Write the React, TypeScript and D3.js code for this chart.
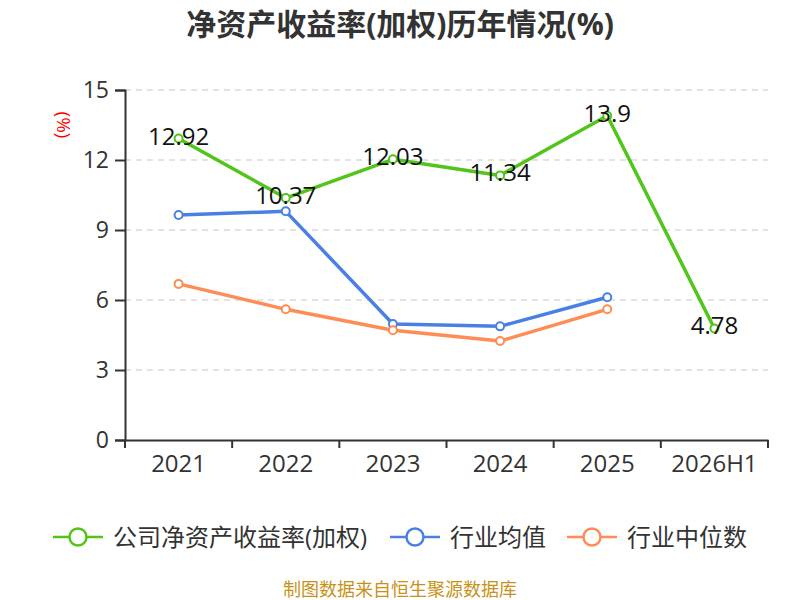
import React, { useEffect, useRef } from "react";
import * as d3 from "d3";

const categories = ["2021", "2022", "2023", "2024", "2025", "2026H1"];
const companyRoe = [12.92, 10.37, 12.03, 11.34, 13.9, 4.78];
const industryAvg = [9.64, 9.8, 4.97, 4.87, 6.12];
const industryMedian = [6.69, 5.6, 4.7, 4.24, 5.6];
const yTicks = [0, 3, 6, 9, 12, 15];

const seriesList = [
  { name: "公司净资产收益率(加权)", values: companyRoe, color: "#52c41a", labels: true },
  { name: "行业均值", values: industryAvg, color: "#4a80e4", labels: false },
  { name: "行业中位数", values: industryMedian, color: "#ff8c55", labels: false },
];

const FONT = "'Open Sans', 'Noto Sans CJK SC', sans-serif";

export default function App() {
  const ref = useRef<SVGSVGElement>(null);

  useEffect(() => {
    const width = 800;
    const height = 600;
    const margin = { top: 90, right: 32, bottom: 160, left: 125 };

    const svg = d3.select(ref.current);
    svg.selectAll("*").remove();

    const x = d3
      .scaleBand<string>()
      .domain(categories)
      .range([margin.left, width - margin.right]);
    const y = d3
      .scaleLinear()
      .domain([0, 15])
      .range([height - margin.bottom, margin.top]);

    svg
      .append("text")
      .attr("x", width / 2)
      .attr("y", 35)
      .attr("text-anchor", "middle")
      .attr("font-size", 30)
      .attr("font-weight", 700)
      .attr("fill", "#333")
      .text("净资产收益率(加权)历年情况(%)");

    // grid
    svg
      .append("g")
      .selectAll("line")
      .data(yTicks.filter((t) => t > 0))
      .join("line")
      .attr("x1", margin.left)
      .attr("x2", width - margin.right)
      .attr("y1", (d) => y(d))
      .attr("y2", (d) => y(d))
      .attr("stroke", "#c8c8c8")
      .attr("stroke-width", 1.2)
      .attr("stroke-dasharray", "6,5");

    // y axis
    const yAxis = svg
      .append("g")
      .attr("transform", `translate(${margin.left},0)`)
      .call(d3.axisLeft(y).tickValues(yTicks).tickSize(10).tickPadding(6));
    yAxis.select(".domain").attr("stroke", "#333").attr("stroke-width", 2);
    yAxis.selectAll(".tick line").attr("stroke", "#333").attr("stroke-width", 2);
    yAxis
      .selectAll(".tick text")
      .attr("font-size", 23)
      .attr("font-family", FONT)
      .attr("fill", "#333");

    svg
      .append("text")
      .attr("transform", `translate(57,125) rotate(90)`)
      .attr("text-anchor", "middle")
      .attr("font-size", 19)
      .attr("fill", "#ff0000")
      .text("(%)");

    // x axis
    const xAxis = svg
      .append("g")
      .attr("transform", `translate(0,${y(0)})`)
      .call(d3.axisBottom(x).tickSize(0).tickPadding(15));
    xAxis.select(".domain").attr("stroke", "#333").attr("stroke-width", 2);
    xAxis
      .selectAll(".tick text")
      .attr("font-size", 24)
      .attr("font-family", FONT)
      .attr("fill", "#333");
    svg
      .append("g")
      .selectAll("line")
      .data([...categories.map((c) => x(c) as number), x.range()[1]])
      .join("line")
      .attr("x1", (d) => d)
      .attr("x2", (d) => d)
      .attr("y1", y(0))
      .attr("y2", y(0) + 8)
      .attr("stroke", "#333")
      .attr("stroke-width", 2);

    const cx = (i: number) => (x(categories[i]) as number) + x.bandwidth() / 2;

    seriesList.forEach((s) => {
      const line = d3
        .line<number>()
        .x((_, i) => cx(i))
        .y((d) => y(d));
      svg
        .append("path")
        .datum(s.values)
        .attr("d", line)
        .attr("fill", "none")
        .attr("stroke", s.color)
        .attr("stroke-width", 3.5)
        .attr("stroke-linejoin", "round");
    });

    seriesList.forEach((s) => {
      svg
        .append("g")
        .selectAll("circle")
        .data(s.values)
        .join("circle")
        .attr("cx", (_, i) => cx(i))
        .attr("cy", (d) => y(d))
        .attr("r", 4)
        .attr("fill", "#fff")
        .attr("stroke", s.color)
        .attr("stroke-width", 2);
    });

    seriesList
      .filter((s) => s.labels)
      .forEach((s) => {
        svg
          .append("g")
          .selectAll("text")
          .data(s.values)
          .join("text")
          .attr("x", (_, i) => cx(i))
          .attr("y", (d) => y(d) + 6)
          .attr("text-anchor", "middle")
          .attr("font-size", 24)
          .attr("fill", "#111")
          .text((d) => String(d));
      });

    // legend
    const legendX = [53, 390, 567];
    const legend = svg
      .append("g")
      .selectAll("g")
      .data(seriesList)
      .join("g")
      .attr("transform", (_, i) => `translate(${legendX[i]},537)`);
    legend
      .append("line")
      .attr("x1", 0)
      .attr("x2", 50)
      .attr("stroke", (d) => d.color)
      .attr("stroke-width", 2.5);
    legend
      .append("circle")
      .attr("cx", 25)
      .attr("r", 8.5)
      .attr("fill", "#fff")
      .attr("stroke", (d) => d.color)
      .attr("stroke-width", 2.5);
    legend
      .append("text")
      .attr("x", 60)
      .attr("y", 9)
      .attr("font-size", 24)
      .attr("fill", "#333")
      .text((d) => d.name);

    svg
      .append("text")
      .attr("x", width / 2)
      .attr("y", 596)
      .attr("text-anchor", "middle")
      .attr("font-size", 18)
      .attr("fill", "#c8921a")
      .text("制图数据来自恒生聚源数据库");
  }, []);

  return (
    <div style={{ position: "fixed", left: 0, top: 0 }}>
      <svg
        ref={ref}
        width={800}
        height={600}
        style={{ display: "block", background: "#fff", fontFamily: FONT }}
      />
    </div>
  );
}
